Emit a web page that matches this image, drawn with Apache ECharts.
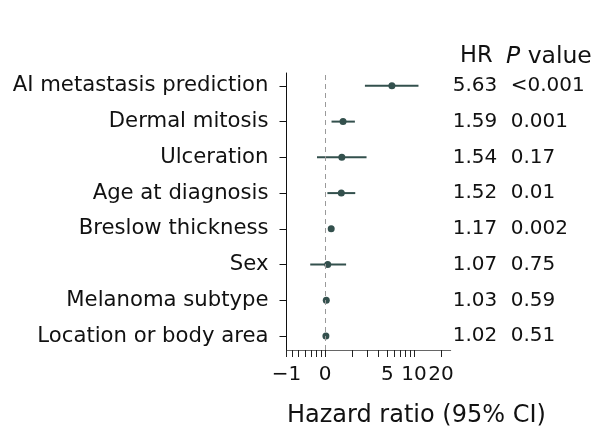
<!DOCTYPE html>
<html><head><meta charset="utf-8">
<script src="https://cdn.jsdelivr.net/npm/echarts@6/dist/echarts.min.js"></script>
<style>html,body{margin:0;padding:0;background:#fff}#c{width:599px;height:440px}</style>
</head><body><div id="c"></div>
<script>
const categories = ["AI metastasis prediction","Dermal mitosis","Ulceration","Age at diagnosis","Breslow thickness","Sex","Melanoma subtype","Location or body area"];
const hrValues = [5.63,1.59,1.54,1.52,1.17,1.07,1.03,1.02];
const hrLabels = ["5.63","1.59","1.54","1.52","1.17","1.07","1.03","1.02"];
const ciLow  = [2.80,1.18,0.81,1.06,1.09,0.68,1.00,0.99];
const ciHigh = [11.2,2.16,2.92,2.18,1.25,1.72,1.06,1.05];
const pValues = ["<0.001","0.001","0.17","0.01","0.002","0.75","0.59","0.51"];
const tickHR = [0.368,0.43,0.5,0.6,0.7,0.8,0.9,1,2,3,4,5,6,7,8,9,10,20];
const labelHR = [0.368,1,5,10,20];
const tickLabels = ["\u22121","0","5","10","20"];

const FONT = "DejaVu Sans";
const COLOR = "#33504d";
const TXT = "#111";
const n = categories.length;
const rowPos = categories.map((c,i)=>n-i);
const ln = Math.log;

const yBase = {type:'value',min:0.61,max:8.36,gridIndex:0,splitLine:{show:false}};
const yLabelFmt = arr => v => { const i = n - Math.round(v); return arr[i] ?? ''; };

const chart = echarts.init(document.getElementById('c'),null,{renderer:'canvas'});
chart.setOption({
  animation:false,
  backgroundColor:'#fff',
  grid:{left:286.5,right:148.3,top:73,bottom:90,containLabel:false},
  title:[
    {text:'HR',left:455,top:40,textStyle:{fontFamily:FONT,fontSize:22.5,fontWeight:'normal',color:TXT}},
    {text:'{i|P} value',left:501,top:40,textStyle:{fontFamily:FONT,fontSize:23.5,fontWeight:'normal',color:TXT,
      rich:{i:{fontFamily:FONT,fontSize:23.5,fontStyle:'italic',color:TXT}}}},
    {text:'Hazard ratio (95% CI)',left:282,top:399,textStyle:{fontFamily:FONT,fontSize:24,fontWeight:'normal',color:TXT}}
  ],
  xAxis:{type:'value',min:-1,max:3.25,
    axisLine:{show:true,onZero:false,lineStyle:{color:'#666',width:1}},
    axisTick:{show:true,length:7,lineStyle:{color:'#222',width:1},customValues:tickHR.map(ln)},
    axisLabel:{show:true,margin:15,fontFamily:FONT,fontSize:20,color:TXT,
      customValues:labelHR.map(ln),
      formatter:v=>{let b=0,d=1e9;labelHR.forEach((h,i)=>{const dd=Math.abs(ln(h)-v);if(dd<d){d=dd;b=i;}});return tickLabels[b];}},
    splitLine:{show:false}},
  yAxis:[
    Object.assign({},yBase,{position:'left',
      axisLine:{show:true,onZero:false,lineStyle:{color:'#111',width:1}},
      axisTick:{show:true,length:7,lineStyle:{color:'#111'},customValues:rowPos},
      axisLabel:{show:true,margin:18,fontFamily:FONT,fontSize:21.2,color:TXT,customValues:rowPos,formatter:yLabelFmt(categories)}}),
    Object.assign({},yBase,{position:'right',offset:1,
      axisLine:{show:false,onZero:false},axisTick:{show:false},
      axisLabel:{show:true,margin:1,align:'left',fontFamily:FONT,fontSize:20,color:TXT,customValues:rowPos,formatter:yLabelFmt(hrLabels)}}),
    Object.assign({},yBase,{position:'right',offset:60,
      axisLine:{show:false,onZero:false},axisTick:{show:false},
      axisLabel:{show:true,margin:0,align:'left',fontFamily:FONT,fontSize:20,color:TXT,customValues:rowPos,formatter:yLabelFmt(pValues)}})
  ],
  series:[
    {type:'line',data:[],markLine:{silent:true,symbol:'none',label:{show:false},
      lineStyle:{type:[5,4],color:'#9a9a9a',width:1},data:[{xAxis:0}]}},
    {type:'custom',renderItem:(params,api)=>{
        const a=api.coord([api.value(0),api.value(2)]), b=api.coord([api.value(1),api.value(2)]);
        return {type:'line',shape:{x1:a[0],y1:a[1],x2:b[0],y2:b[1]},style:{stroke:COLOR,lineWidth:2}};
      },
      encode:{x:[0,1],y:2},
      data:categories.map((c,i)=>[ln(ciLow[i]),ln(ciHigh[i]),rowPos[i]])},
    {type:'scatter',symbol:'circle',symbolSize:7,itemStyle:{color:COLOR,opacity:1},
      data:categories.map((c,i)=>[ln(hrValues[i]),rowPos[i]])}
  ]
});
</script></body></html>
